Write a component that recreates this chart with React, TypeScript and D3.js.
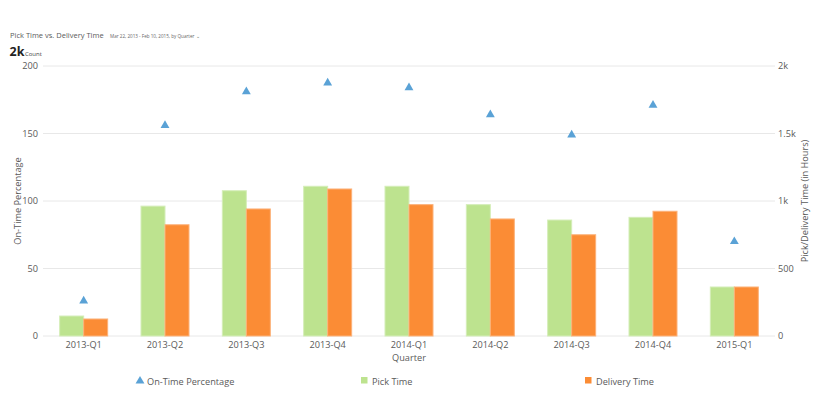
import {useEffect, useRef} from 'react';
import * as d3 from 'd3';

const quarters = ['2013-Q1', '2013-Q2', '2013-Q3', '2013-Q4', '2014-Q1', '2014-Q2', '2014-Q3', '2014-Q4', '2015-Q1'];
const pickTime = [148, 962, 1076, 1109, 1109, 973, 859, 879, 363];
const deliveryTime = [126, 824, 941, 1089, 973, 867, 750, 924, 363];
const onTimePct = [26, 156, 181, 187.5, 184, 164, 149, 171, 70];
const leftTicks = [0, 50, 100, 150, 200];
const rightTicks = [0, 500, 1000, 1500, 2000];

const W = 820;
const H = 420;

export default function App() {
  const svgRef = useRef<SVGSVGElement>(null);

  useEffect(() => {
    if (!svgRef.current) return;
    const svg = d3.select(svgRef.current);
    svg.selectAll('*').remove();

    const font = '"Open Sans", sans-serif';
    const fs = 9.2;
    const colors = {
      text: '#5a5a5a',
      grid: '#e8e8e8',
      pick: '#bde38f',
      delivery: '#fb8c35',
      pct: '#5aa2d6',
    };

    svg.append('rect').attr('width', W).attr('height', H).attr('fill', '#fff');

    const left = 43;
    const right = 775;
    const top = 66;
    const bottom = 336;

    const x = d3.scaleBand<string>().domain(quarters).range([left, right]);
    const yPct = d3.scaleLinear().domain([0, 200]).range([bottom, top]);
    const yHrs = d3.scaleLinear().domain([0, 2000]).range([bottom, top]);

    // title
    svg.append('text').attr('x', 10).attr('y', 38).attr('font-family', font).attr('font-size', 7.5)
      .attr('fill', colors.text).text('Pick Time vs. Delivery Time');
    svg.append('text').attr('x', 110).attr('y', 38).attr('font-family', font).attr('font-size', 4.6)
      .attr('fill', '#666').text('Mar 22, 2013 - Feb 10, 2015, by Quarter  \u2304');
    const big = svg.append('text').attr('x', 9.5).attr('y', 56).attr('font-family', font).attr('fill', '#222');
    big.append('tspan').attr('font-size', 12.5).attr('font-weight', 'bold').text('2k');
    big.append('tspan').attr('font-size', 6).attr('fill', '#444').attr('dx', 0.5).text('Count');

    // grid
    svg.append('g').selectAll('line').data(leftTicks).join('line')
      .attr('x1', left).attr('x2', right)
      .attr('y1', (d) => yPct(d)).attr('y2', (d) => yPct(d))
      .attr('stroke', colors.grid).attr('stroke-width', 1);

    svg.append('g').selectAll('text').data(leftTicks).join('text')
      .attr('x', 38).attr('y', (d) => yPct(d) + 3.3).attr('text-anchor', 'end')
      .attr('font-family', font).attr('font-size', fs).attr('fill', colors.text).text((d) => d);

    svg.append('g').selectAll('text').data(rightTicks).join('text')
      .attr('x', 778).attr('y', (d) => yHrs(d) + 3.3)
      .attr('font-family', font).attr('font-size', fs).attr('fill', colors.text)
      .text((d) => (d >= 1000 ? `${d / 1000}k` : `${d}`));

    svg.append('text').attr('transform', `translate(21,${(top + bottom) / 2}) rotate(-90)`)
      .attr('text-anchor', 'middle').attr('font-family', font).attr('font-size', fs)
      .attr('fill', colors.text).text('On-Time Percentage');
    svg.append('text').attr('transform', `translate(808,${(top + bottom) / 2}) rotate(-90)`)
      .attr('text-anchor', 'middle').attr('font-family', font).attr('font-size', fs)
      .attr('fill', colors.text).text('Pick/Delivery Time (in Hours)');

    // bars
    const barW = 24;
    const bars = svg.append('g');
    bars.selectAll('rect.pick').data(quarters).join('rect').attr('class', 'pick')
      .attr('x', (d) => (x(d) ?? 0) + x.bandwidth() / 2 - barW)
      .attr('y', (d, i) => yHrs(pickTime[i]))
      .attr('width', barW)
      .attr('height', (d, i) => bottom - yHrs(pickTime[i]))
      .attr('fill', colors.pick).attr('stroke', '#d4edb8').attr('stroke-width', 1);
    bars.selectAll('rect.del').data(quarters).join('rect').attr('class', 'del')
      .attr('x', (d) => (x(d) ?? 0) + x.bandwidth() / 2)
      .attr('y', (d, i) => yHrs(deliveryTime[i]))
      .attr('width', barW)
      .attr('height', (d, i) => bottom - yHrs(deliveryTime[i]))
      .attr('fill', colors.delivery).attr('stroke', '#fcb27a').attr('stroke-width', 1);

    // triangles
    const tri = d3.symbol().type(d3.symbolTriangle).size(34);
    svg.append('g').selectAll('path').data(quarters).join('path')
      .attr('d', tri)
      .attr('transform', (d, i) => `translate(${(x(d) ?? 0) + x.bandwidth() / 2},${yPct(onTimePct[i])})`)
      .attr('fill', colors.pct);

    // x labels
    svg.append('g').selectAll('text').data(quarters).join('text')
      .attr('x', (d) => (x(d) ?? 0) + x.bandwidth() / 2).attr('y', 348)
      .attr('text-anchor', 'middle').attr('font-family', font).attr('font-size', fs)
      .attr('fill', colors.text).text((d) => d);
    svg.append('text').attr('x', (left + right) / 2).attr('y', 361).attr('text-anchor', 'middle')
      .attr('font-family', font).attr('font-size', fs).attr('fill', colors.text).text('Quarter');

    // legend
    const legend = svg.append('g').attr('font-family', font).attr('font-size', fs).attr('fill', colors.text);
    legend.append('path').attr('d', tri).attr('transform', 'translate(140,381)').attr('fill', colors.pct);
    legend.append('text').attr('x', 147).attr('y', 384.5).text('On-Time Percentage');
    legend.append('rect').attr('x', 361).attr('y', 377).attr('width', 6.5).attr('height', 6.5).attr('fill', colors.pick);
    legend.append('text').attr('x', 372).attr('y', 384.5).text('Pick Time');
    legend.append('rect').attr('x', 585).attr('y', 377).attr('width', 6.5).attr('height', 6.5).attr('fill', colors.delivery);
    legend.append('text').attr('x', 596).attr('y', 384.5).text('Delivery Time');
  }, []);

  return (
    <svg ref={svgRef} width={W} height={H} style={{display: 'block', position: 'absolute', left: 0, top: 0}} />
  );
}
